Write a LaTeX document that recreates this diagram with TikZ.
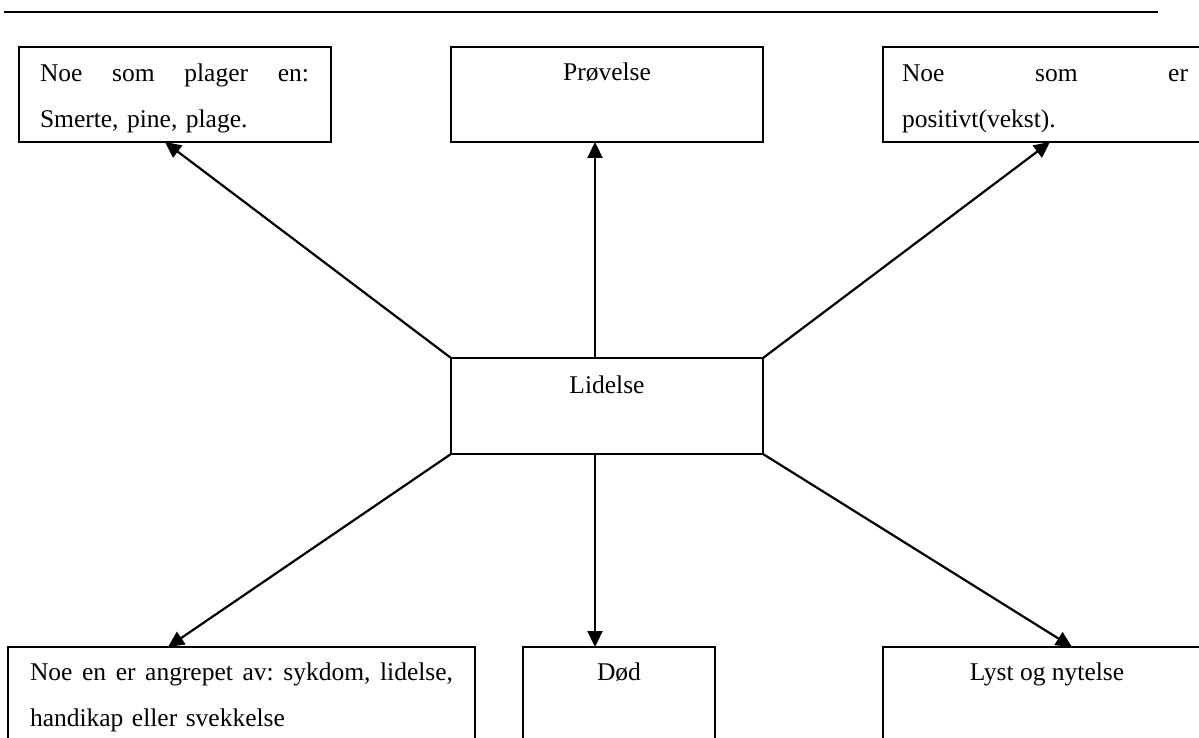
\documentclass[tikz,border=0pt]{standalone}
\usepackage{fontspec}
\setmainfont{Liberation Serif}
\usetikzlibrary{arrows.meta,calc}
\tikzset{
  box/.style={draw, line width=2pt, rectangle, inner sep=0pt, outer sep=0pt},
  txt/.style={inner sep=0pt, outer sep=0pt, font=\fontsize{25.5}{46}\selectfont},
  conn/.style={line width=2.2pt, -{Triangle[length=16pt,width=15pt]}},
}
\begin{document}
\begin{tikzpicture}[x=1pt,y=-1pt]
\clip (0,0) rectangle (1199,738);
\fill[white] (0,0) rectangle (1199,738);
\draw[line width=2.4pt] (4,12) -- (1158,12);
% boxes
\node[box, minimum width=312pt, minimum height=95pt] (tl) at (175,94.5) {};
\node[box, minimum width=312pt, minimum height=95pt] (tm) at (607,94.5) {};
\node[box, minimum width=328pt, minimum height=95pt] (tr) at (1047,94.5) {};
\node[box, minimum width=312pt, minimum height=96pt] (L) at (607,406) {};
\node[box, minimum width=467pt, minimum height=140pt] (bl) at (241.5,717) {};
\node[box, minimum width=192pt, minimum height=140pt] (bd) at (619,717) {};
\node[box, minimum width=328pt, minimum height=140pt] (br) at (1047,717) {};
% texts
\node[txt, anchor=base west, text width=269pt, align=left] (tltext) at (40,82)
  {\hbox to 269pt{Noe\hfill som\hfill plager\hfill en:}\\Smerte, pine, plage.};
\node[txt, anchor=base] (tmtext) at (607,81) {Prøvelse};
\node[txt, anchor=base west, text width=286pt, align=left] (trtext) at (902,82)
  {\hbox to 286pt{Noe\hfill som\hfill er}\\positivt(vekst).};
\node[txt, anchor=base] (Ltext) at (607,393) {Lidelse};
\node[txt, anchor=base west, text width=423pt, align=left] (bltext) at (30,680)
  {\hbox to 423pt{Noe\hfill en\hfill er\hfill angrepet\hfill av:\hfill sykdom,\hfill lidelse,}\\handikap eller svekkelse};
\node[txt, anchor=base] (bdtext) at (619,680) {Død};
\node[txt, anchor=base] (brtext) at (1047,680) {Lyst og nytelse};
% connectors
\coordinate (lt) at ($(L.north west)+(144,0)$);
\coordinate (lb) at ($(L.south west)+(144,0)$);
\draw[conn] (L.north west) -- ($(tl.south west)+(146,0)$);
\draw[conn] (lt) -- (lt |- tm.south);
\draw[conn] (L.north east) -- ($(tr.south west)+(167,0)$);
\draw[conn] (L.south west) -- ($(bl.north west)+(160,0)$);
\draw[conn] (lb) -- (lb |- bd.north);
\draw[conn] (L.south east) -- ($(br.north west)+(189,0)$);
\end{tikzpicture}
\end{document}
